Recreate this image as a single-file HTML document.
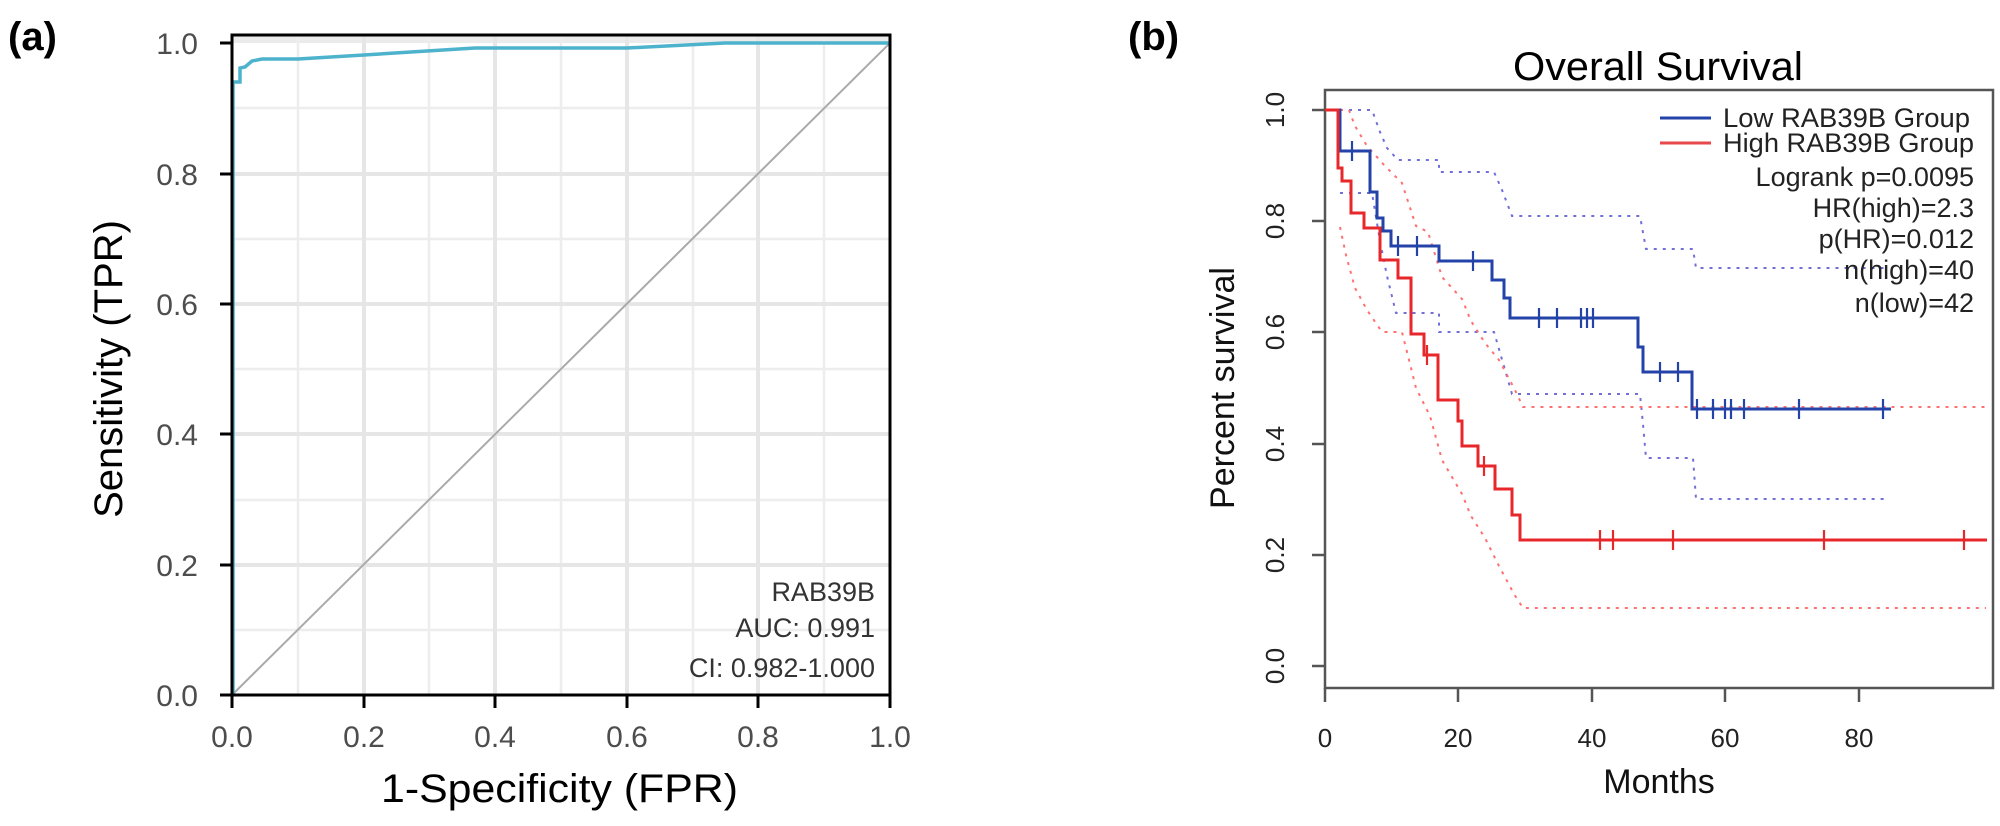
<!DOCTYPE html>
<html><head><meta charset="utf-8"><style>
html,body{margin:0;padding:0;background:#fff;}
svg{display:block;font-family:"Liberation Sans",Arial,sans-serif;}
</style></head><body>
<svg width="2000" height="826" viewBox="0 0 2000 826" xmlns="http://www.w3.org/2000/svg">
<!-- Panel A: X(f)=232+658f, Y(t)=695-652t -->
<text x="8" y="50" font-size="40" font-weight="bold">(a)</text>
<rect x="232" y="35" width="658" height="8" fill="#EBEBEB"/>
<g stroke="#EDEDED" stroke-width="2.5">
<line x1="298" y1="35" x2="298" y2="695"/><line x1="429" y1="35" x2="429" y2="695"/><line x1="561" y1="35" x2="561" y2="695"/><line x1="693" y1="35" x2="693" y2="695"/><line x1="824" y1="35" x2="824" y2="695"/>
<line x1="232" y1="108" x2="890" y2="108"/><line x1="232" y1="239" x2="890" y2="239"/><line x1="232" y1="369" x2="890" y2="369"/><line x1="232" y1="500" x2="890" y2="500"/><line x1="232" y1="630" x2="890" y2="630"/>
</g>
<g stroke="#E6E6E6" stroke-width="4">
<line x1="364" y1="35" x2="364" y2="695"/><line x1="495" y1="35" x2="495" y2="695"/><line x1="627" y1="35" x2="627" y2="695"/><line x1="758" y1="35" x2="758" y2="695"/>
<line x1="232" y1="174" x2="890" y2="174"/><line x1="232" y1="304" x2="890" y2="304"/><line x1="232" y1="434" x2="890" y2="434"/><line x1="232" y1="565" x2="890" y2="565"/>
</g>
<line x1="232" y1="695" x2="890" y2="43" stroke="#AAAAAA" stroke-width="2"/>
<polyline fill="none" stroke="#4DB3CD" stroke-width="3.5" points="233,695 233,82 240,82 240,68 245,67 252,61 262,59 298,59 364,55 475,48 627,48 725,43 890,43"/>
<rect x="232" y="35" width="658" height="660" fill="none" stroke="#000" stroke-width="3"/>
<g stroke="#000" stroke-width="3">
<line x1="220" y1="43" x2="232" y2="43"/><line x1="220" y1="174" x2="232" y2="174"/><line x1="220" y1="304" x2="232" y2="304"/><line x1="220" y1="434" x2="232" y2="434"/><line x1="220" y1="565" x2="232" y2="565"/><line x1="220" y1="695" x2="232" y2="695"/>
<line x1="232" y1="695" x2="232" y2="708"/><line x1="364" y1="695" x2="364" y2="708"/><line x1="495" y1="695" x2="495" y2="708"/><line x1="627" y1="695" x2="627" y2="708"/><line x1="758" y1="695" x2="758" y2="708"/><line x1="890" y1="695" x2="890" y2="708"/>
</g>
<g font-size="30" fill="#4D4D4D" text-anchor="end">
<text x="198" y="54">1.0</text><text x="198" y="185">0.8</text><text x="198" y="315">0.6</text><text x="198" y="445">0.4</text><text x="198" y="576">0.2</text><text x="198" y="706">0.0</text>
</g>
<g font-size="30" fill="#4D4D4D" text-anchor="middle">
<text x="232" y="747">0.0</text><text x="364" y="747">0.2</text><text x="495" y="747">0.4</text><text x="627" y="747">0.6</text><text x="758" y="747">0.8</text><text x="890" y="747">1.0</text>
</g>
<text x="381" y="802" font-size="40" textLength="357" lengthAdjust="spacingAndGlyphs">1-Specificity (FPR)</text>
<text transform="translate(122,369) rotate(-90)" font-size="40" text-anchor="middle">Sensitivity (TPR)</text>
<g font-size="27" fill="#333" text-anchor="end">
<text x="875" y="601">RAB39B</text><text x="875" y="637">AUC: 0.991</text><text x="875" y="677">CI: 0.982-1.000</text>
</g>

<!-- Panel B: X(m)=1325+6.675m, Y(s)=666-556s -->
<text x="1128" y="50" font-size="40" font-weight="bold">(b)</text>
<text x="1513" y="80" font-size="40" textLength="290" lengthAdjust="spacingAndGlyphs">Overall Survival</text>
<rect x="1325" y="90" width="668" height="598" fill="none" stroke="#555" stroke-width="2.5"/>
<g stroke="#555" stroke-width="2.5">
<line x1="1312" y1="110" x2="1325" y2="110"/><line x1="1312" y1="221" x2="1325" y2="221"/><line x1="1312" y1="332" x2="1325" y2="332"/><line x1="1312" y1="444" x2="1325" y2="444"/><line x1="1312" y1="555" x2="1325" y2="555"/><line x1="1312" y1="666" x2="1325" y2="666"/>
<line x1="1325" y1="688" x2="1325" y2="702"/><line x1="1458" y1="688" x2="1458" y2="702"/><line x1="1592" y1="688" x2="1592" y2="702"/><line x1="1725" y1="688" x2="1725" y2="702"/><line x1="1859" y1="688" x2="1859" y2="702"/>
</g>
<g font-size="26" fill="#222" text-anchor="middle">
<text transform="translate(1284,110) rotate(-90)">1.0</text><text transform="translate(1284,221) rotate(-90)">0.8</text><text transform="translate(1284,332) rotate(-90)">0.6</text><text transform="translate(1284,444) rotate(-90)">0.4</text><text transform="translate(1284,555) rotate(-90)">0.2</text><text transform="translate(1284,666) rotate(-90)">0.0</text>
<text x="1325" y="747">0</text><text x="1458" y="747">20</text><text x="1592" y="747">40</text><text x="1725" y="747">60</text><text x="1859" y="747">80</text>
</g>
<text x="1659" y="793" font-size="34" text-anchor="middle" fill="#111">Months</text>
<text transform="translate(1234,388) rotate(-90)" font-size="34" text-anchor="middle" fill="#111">Percent survival</text>

<g fill="none" stroke-width="2" stroke-dasharray="3,6">
<polyline stroke="#7070D8" points="1340,110 1372,110 1380,132 1387,148 1398,160 1439,160 1439,172 1494,172 1502,190 1512,216 1640,216 1646,249 1693,249 1696,268 1884,268"/>
<polyline stroke="#7070D8" points="1340,193 1372,193 1380,241 1387,276 1396,313 1439,313 1439,332 1494,332 1512,394 1640,394 1643,424 1646,458 1693,458 1696,499 1884,499"/>
<polyline stroke="#FF7070" points="1340,110 1349,110 1355,126 1367,146 1385,166 1402,183 1416,226 1428,232 1442,277 1462,299 1471,321 1485,343 1499,360 1514,388 1523,407 1986,407"/>
<polyline stroke="#FF7070" points="1340,227 1346,255 1355,288 1367,310 1382,332 1402,332 1416,388 1430,416 1442,460 1462,494 1471,516 1485,538 1499,566 1514,594 1523,608 1986,608"/>
</g>
<polyline fill="none" stroke="#2343A8" stroke-width="3" points="1325,110 1340,110 1340,151 1370,151 1370,192 1377,192 1377,218 1383,218 1383,231 1391,231 1391,246 1439,246 1439,261 1492,261 1492,280 1504,280 1504,298 1510,298 1510,318 1638,318 1638,347 1643,347 1643,372 1692,372 1692,409 1891,409"/>
<polyline fill="none" stroke="#E8272B" stroke-width="3" points="1325,110 1338,110 1338,168 1342,168 1342,181 1351,181 1351,213 1364,213 1364,228 1380,228 1380,260 1398,260 1398,278 1411,278 1411,334 1424,334 1424,355 1438,355 1438,400 1458,400 1458,421 1462,421 1462,446 1478,446 1478,466 1495,466 1495,489 1512,489 1512,515 1520,515 1520,540 1987,540"/>
<g stroke="#2343A8" stroke-width="2.2">
<line x1="1352" y1="141" x2="1352" y2="161"/><line x1="1398" y1="236" x2="1398" y2="256"/><line x1="1417" y1="236" x2="1417" y2="256"/><line x1="1473" y1="251" x2="1473" y2="271"/>
<line x1="1539" y1="308" x2="1539" y2="328"/><line x1="1557" y1="308" x2="1557" y2="328"/><line x1="1581" y1="308" x2="1581" y2="328"/><line x1="1587" y1="308" x2="1587" y2="328"/><line x1="1593" y1="308" x2="1593" y2="328"/>
<line x1="1660" y1="362" x2="1660" y2="382"/><line x1="1678" y1="362" x2="1678" y2="382"/><line x1="1697" y1="399" x2="1697" y2="419"/><line x1="1713" y1="399" x2="1713" y2="419"/><line x1="1725" y1="399" x2="1725" y2="419"/><line x1="1731" y1="399" x2="1731" y2="419"/><line x1="1744" y1="399" x2="1744" y2="419"/><line x1="1799" y1="399" x2="1799" y2="419"/><line x1="1883" y1="399" x2="1883" y2="419"/>
</g>
<g stroke="#E8272B" stroke-width="2.2">
<line x1="1427" y1="345" x2="1427" y2="365"/><line x1="1484" y1="456" x2="1484" y2="476"/>
<line x1="1600" y1="530" x2="1600" y2="550"/><line x1="1613" y1="530" x2="1613" y2="550"/><line x1="1673" y1="530" x2="1673" y2="550"/><line x1="1824" y1="530" x2="1824" y2="550"/><line x1="1964" y1="530" x2="1964" y2="550"/>
</g>
<line x1="1660" y1="118" x2="1711" y2="118" stroke="#2343A8" stroke-width="3"/>
<line x1="1660" y1="143" x2="1711" y2="143" stroke="#E8474B" stroke-width="3"/>
<g font-size="27" fill="#222">
<text x="1723" y="127" textLength="247" lengthAdjust="spacingAndGlyphs">Low RAB39B Group</text>
<text x="1723" y="152" textLength="251" lengthAdjust="spacingAndGlyphs">High RAB39B Group</text>
</g>
<g font-size="27" fill="#222" text-anchor="end">
<text x="1974" y="186">Logrank p=0.0095</text><text x="1974" y="217">HR(high)=2.3</text><text x="1974" y="248">p(HR)=0.012</text><text x="1974" y="279">n(high)=40</text><text x="1974" y="312">n(low)=42</text>
</g>
</svg>
</body></html>
